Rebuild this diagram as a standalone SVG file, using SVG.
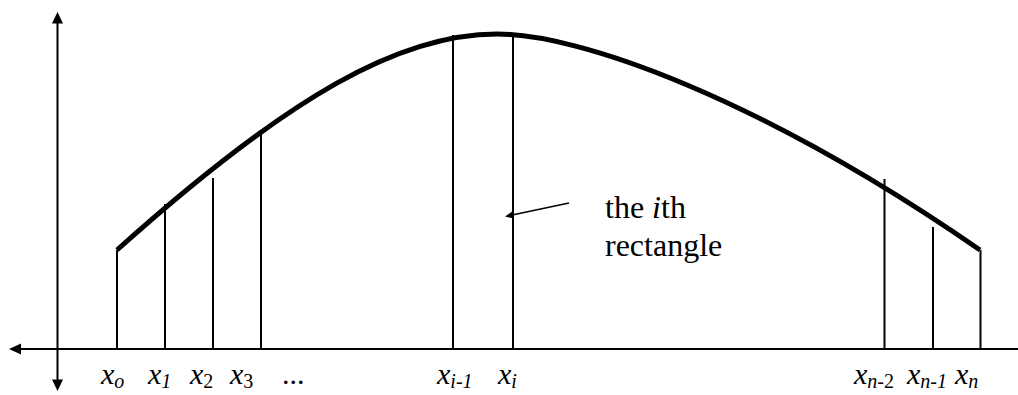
<svg xmlns="http://www.w3.org/2000/svg" width="1018" height="395" viewBox="0 0 1018 395">
<style>
.ax{stroke:#000;stroke-width:2;fill:none}
.ord{stroke:#000;stroke-width:2;fill:none}
.crv{stroke:#000;stroke-width:5;fill:none;stroke-linecap:butt}
.head{fill:#000;stroke:none}
.lbl{font-family:'Liberation Serif',serif;font-size:30px;font-style:italic;fill:#000}
.sub{font-size:20px}
.up{font-style:normal}
.note{font-family:'Liberation Serif',serif;font-size:32px;fill:#000}
</style>
<g id="connectors">
<line class="ax" x1="20" y1="349" x2="1018" y2="349"/>
<polygon class="head" points="9,349 21,343.5 21,354.5"/>
<line class="ax" x1="57.5" y1="22" x2="57.5" y2="381"/>
<polygon class="head" points="57.5,12 52,23.5 63,23.5"/>
<polygon class="head" points="57.5,391 52,379.5 63,379.5"/>
<line class="ax" x1="569" y1="203" x2="511" y2="215.3" style="stroke-width:1.6"/>
<polygon class="head" points="505,216.5 512.5,211.2 514,218.6"/>
</g>
<g id="curve">
<path class="crv" d="M117,250 C290,95 400,34 497,34 C580,34 760,98 980,250"/>
</g>
<g id="ordinates">
<line class="ord" x1="117" y1="250" x2="117" y2="349"/>
<line class="ord" x1="165" y1="204" x2="165" y2="349"/>
<line class="ord" x1="213" y1="178" x2="213" y2="349"/>
<line class="ord" x1="261" y1="131" x2="261" y2="349"/>
<line class="ord" x1="453" y1="35" x2="453" y2="349"/>
<line class="ord" x1="513" y1="36" x2="513" y2="349"/>
<line class="ord" x1="884.5" y1="179" x2="884.5" y2="349"/>
<line class="ord" x1="933" y1="227" x2="933" y2="349"/>
<line class="ord" x1="980.5" y1="250" x2="980.5" y2="349"/>
</g>
<g id="labels">
<text class="lbl" x="101" y="384">x<tspan class="sub" dy="4">o</tspan></text>
<text class="lbl" x="148" y="384">x<tspan class="sub" dy="4">1</tspan></text>
<text class="lbl" x="190" y="384">x<tspan class="sub up" dy="4">2</tspan></text>
<text class="lbl" x="230" y="384">x<tspan class="sub up" dy="4">3</tspan></text>
<text class="lbl up" x="282" y="384">...</text>
<text class="lbl" x="437" y="384">x<tspan class="sub" dy="4">i-1</tspan></text>
<text class="lbl" x="498" y="384">x<tspan class="sub" dy="4">i</tspan></text>
<text class="lbl" x="854" y="384">x<tspan class="sub" dy="4">n-</tspan><tspan class="sub up">2</tspan></text>
<text class="lbl" x="907" y="384">x<tspan class="sub" dy="4">n-1</tspan></text>
<text class="lbl" x="955" y="384">x<tspan class="sub" dy="4">n</tspan></text>
</g>
<g id="note">
<text class="note" x="605" y="218">the <tspan style="font-style:italic">i</tspan>th</text>
<text class="note" x="605" y="256">rectangle</text>
</g>
</svg>
